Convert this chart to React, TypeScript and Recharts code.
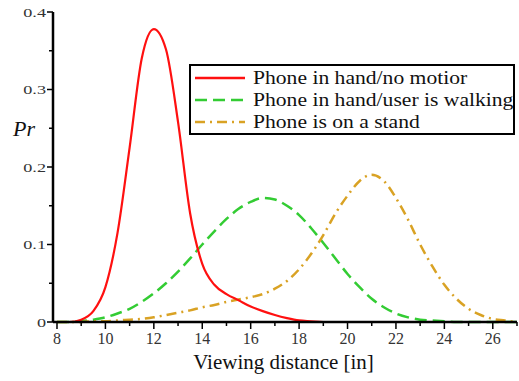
import { Line, LineChart, XAxis, YAxis } from "recharts";

const distance = [
  8, 8.5, 9, 9.5, 10, 10.5, 11, 11.5, 12, 12.5, 13, 13.5, 14, 14.5, 15, 15.5, 16, 16.5, 17, 17.5,
  18, 18.5, 19, 19.5, 20, 20.5, 21, 21.5, 22, 22.5, 23, 23.5, 24, 24.5, 25, 25.5, 26, 26.5, 27,
];
const noMotion = [
  0, 0, 0.003, 0.014, 0.045, 0.115, 0.225, 0.34, 0.378, 0.352, 0.258, 0.14, 0.075, 0.048, 0.036,
  0.028, 0.02, 0.014, 0.009, 0.005, 0.002, 0.001, 0, 0, 0, 0, 0, 0, 0, 0, 0, 0, 0, 0, 0, 0, 0, 0, 0,
];
const walking = [
  0, 0, 0.001, 0.003, 0.006, 0.011, 0.017, 0.026, 0.037, 0.05, 0.065, 0.082, 0.1, 0.117, 0.133,
  0.146, 0.155, 0.16, 0.158, 0.15, 0.138, 0.121, 0.102, 0.082, 0.062, 0.045, 0.03, 0.019, 0.011,
  0.006, 0.003, 0.002, 0.001, 0, 0, 0, 0, 0, 0,
];
const onStand = [
  0, 0, 0, 0.001, 0.001, 0.002, 0.003, 0.004, 0.006, 0.009, 0.012, 0.015, 0.019, 0.022, 0.026,
  0.029, 0.032, 0.036, 0.043, 0.053, 0.068, 0.088, 0.112, 0.14, 0.163, 0.182, 0.19, 0.182, 0.16,
  0.132, 0.1, 0.072, 0.048, 0.03, 0.017, 0.009, 0.004, 0.002, 0,
];

const xTicks = [8, 9, 10, 11, 12, 13, 14, 15, 16, 17, 18, 19, 20, 21, 22, 23, 24, 25, 26, 27];
const yTicks = [0, 0.05, 0.1, 0.15, 0.2, 0.25, 0.3, 0.35, 0.4];
const yLabels: Record<string, string> = { "0": "0", "0.1": "0.1", "0.2": "0.2", "0.3": "0.3", "0.4": "0.4" };

const legendItems = [
  { label: "Phone in hand/no motior", color: "#ff1010", dash: "" },
  { label: "Phone in hand/user is walking", color: "#33cc33", dash: "12 6" },
  { label: "Phone is on a stand", color: "#d9a224", dash: "10 5 2 5" },
];

const data = distance.map((d, i) => ({
  d,
  noMotion: noMotion[i],
  walking: walking[i],
  onStand: onStand[i],
}));

const FONT = "Liberation Serif";

const XTick = ({ x, y, payload }: any) => {
  const major = payload.value % 2 === 0;
  return (
    <g>
      <line x1={x} x2={x} y1={y - 8} y2={y - 8 + (major ? 7 : 4)} stroke="#000" strokeWidth={1.5} />
      {major && (
        <text x={x} y={y + 14} textAnchor="middle" fontSize={16} style={{ fontFamily: FONT }} fill="#333">
          {payload.value}
        </text>
      )}
    </g>
  );
};

const YTick = ({ x, y, payload }: any) => {
  const label = yLabels[String(payload.value)];
  return (
    <g>
      <line x1={x + 8} x2={x + 8 - (label ? 6 : 4)} y1={y} y2={y} stroke="#000" strokeWidth={1.5} />
      {label && (
        <text
          transform={`translate(${x + 1},${y + 4.5}) scale(1.4,1)`}
          textAnchor="end"
          fontSize={13}
          style={{ fontFamily: FONT }}
          fill="#333"
        >
          {label}
        </text>
      )}
    </g>
  );
};

export default function App() {
  return (
    <div style={{ position: "absolute", left: 0, top: 0, width: 519, height: 381, background: "#fff", fontFamily: FONT }}>
      <LineChart width={519} height={381} data={data} margin={{ top: 12, right: 2, left: 8, bottom: 29 }}>
        <XAxis
          dataKey="d"
          type="number"
          domain={[7.835, 27]}
          ticks={xTicks}
          interval={0}
          height={30}
          tick={<XTick />}
          tickLine={false}
          axisLine={{ stroke: "#000", strokeWidth: 2.5 }}
          allowDataOverflow
        />
        <YAxis
          type="number"
          domain={[0, 0.4]}
          ticks={yTicks}
          interval={0}
          width={45}
          tick={<YTick />}
          tickLine={false}
          axisLine={{ stroke: "#000", strokeWidth: 2.5 }}
        />
        <Line type="monotone" dataKey="walking" stroke="#33cc33" strokeWidth={2.5} strokeDasharray="12 6" dot={false} isAnimationActive={false} />
        <Line type="monotone" dataKey="onStand" stroke="#d9a224" strokeWidth={2.5} strokeDasharray="10 5 2 5" dot={false} isAnimationActive={false} />
        <Line type="monotone" dataKey="noMotion" stroke="#ff1010" strokeWidth={2.2} dot={false} isAnimationActive={false} />
      </LineChart>

      <div style={{ position: "absolute", left: 13, top: 116, fontFamily: FONT, fontStyle: "italic", fontSize: 22, color: "#111" }}>
        Pr
      </div>
      <div style={{ position: "absolute", left: 0, width: 519, top: 350, paddingLeft: 48, boxSizing: "border-box", textAlign: "center", fontFamily: FONT, fontSize: 21, color: "#111" }}>
        Viewing distance [in]
      </div>

      <div
        style={{
          position: "absolute",
          left: 189,
          top: 64,
          width: 322,
          height: 67,
          border: "2px solid #000",
          background: "#fff",
          overflow: "hidden",
          fontFamily: FONT,
          fontSize: 18,
          color: "#111",
          whiteSpace: "nowrap",
        }}
      >
        {legendItems.map((item, i) => (
          <div key={item.label} style={{ position: "absolute", left: 0, top: 1 + i * 22, height: 22, display: "flex", alignItems: "center" }}>
            <svg width={62} height={22}>
              <line x1={4} x2={54} y1={11} y2={11} stroke={item.color} strokeWidth={2.5} strokeDasharray={item.dash || undefined} />
            </svg>
            <span style={{ display: "inline-block", transform: "scaleX(1.2)", transformOrigin: "left center" }}>{item.label}</span>
          </div>
        ))}
      </div>
    </div>
  );
}
